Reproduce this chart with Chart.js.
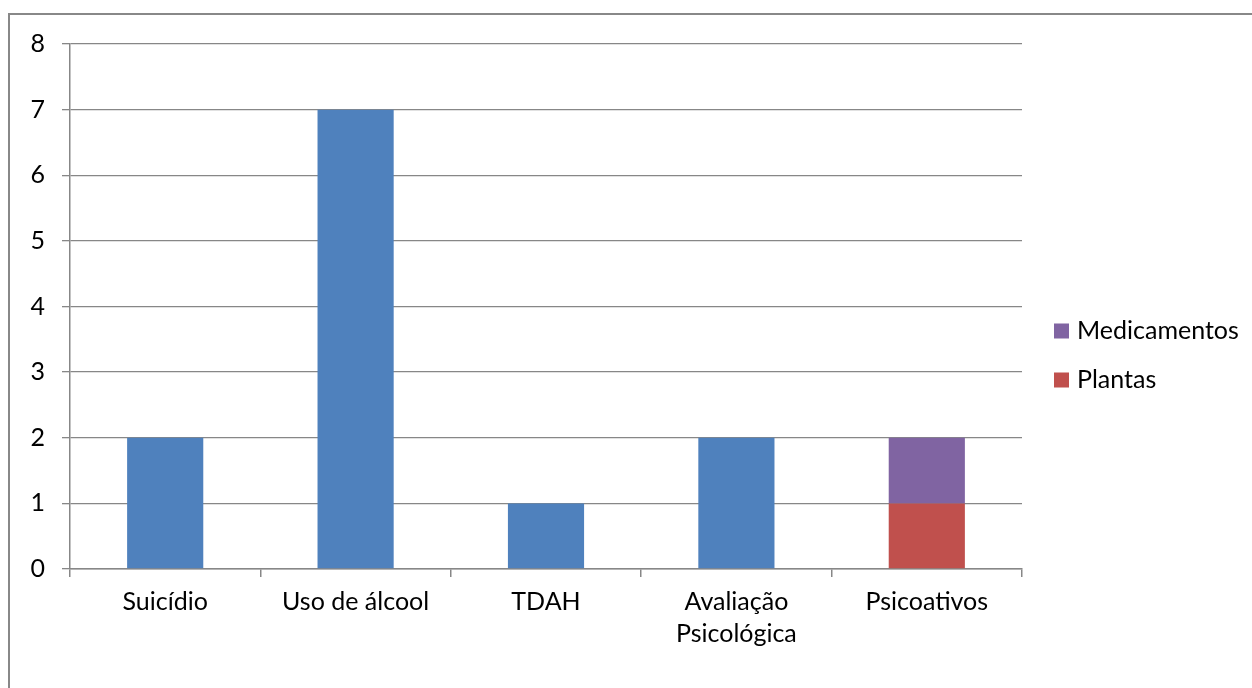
<!DOCTYPE html>
<html>
<head>
<meta charset="utf-8">
<script src="https://cdn.jsdelivr.net/npm/chart.js@4/dist/chart.umd.min.js"></script>
<style>
  html, body { margin: 0; padding: 0; background: #fff; }
  #wrap { position: relative; width: 1252px; height: 688px; }
</style>
</head>
<body>
<div id="wrap"><canvas id="chart" width="1252" height="688"></canvas></div>
<script>
// Categories (multi-line labels as arrays)
const categories = ['Suicídio', 'Uso de álcool', 'TDAH', ['Avaliação', 'Psicológica'], 'Psicoativos'];
// Series values
const estudos = [2, 7, 1, 2, null];
const plantas = [null, null, null, null, 1];
const medicamentos = [null, null, null, null, 1];
// Value axis ticks
const yMin = 0;
const yMax = 8;
const yStep = 1;

const FONT = 'Lato, "Liberation Sans", sans-serif';
const FONT_SIZE = 25;
const GRID = '#878787';

// Frame around the chart and the side legend (only the named series)
const decorations = {
  id: 'decorations',
  beforeDraw(chart) {
    const ctx = chart.ctx;
    ctx.save();
    ctx.fillStyle = '#ffffff';
    ctx.fillRect(0, 0, chart.width, chart.height);
    ctx.strokeStyle = '#888888';
    ctx.lineWidth = 2;
    ctx.beginPath();
    ctx.moveTo(9, chart.height + 10);
    ctx.lineTo(9, 14);
    ctx.lineTo(chart.width + 10, 14);
    ctx.stroke();
    ctx.restore();
  },
  afterDraw(chart) {
    const ctx = chart.ctx;
    const items = chart.data.datasets.filter(d => d.showInLegend).slice().reverse();
    ctx.save();
    ctx.font = FONT_SIZE + 'px ' + FONT;
    ctx.textBaseline = 'middle';
    items.forEach((d, i) => {
      const cy = 331 + i * 49;
      ctx.fillStyle = d.backgroundColor;
      ctx.fillRect(1054, cy - 7.5, 15, 15);
      ctx.fillStyle = '#000000';
      ctx.fillText(d.label, 1077, cy);
    });
    ctx.restore();
  }
};

new Chart(document.getElementById('chart'), {
  type: 'bar',
  data: {
    labels: categories,
    datasets: [
      { label: 'Estudos', data: estudos, backgroundColor: '#4F81BD', showInLegend: false },
      { label: 'Plantas', data: plantas, backgroundColor: '#C0504D', showInLegend: true },
      { label: 'Medicamentos', data: medicamentos, backgroundColor: '#8064A2', showInLegend: true }
    ]
  },
  options: {
    responsive: false,
    animation: false,
    devicePixelRatio: 1,
    layout: { padding: { top: 44, right: 230, bottom: 0, left: 0 } },
    datasets: { bar: { barPercentage: 0.4, categoryPercentage: 1.0, borderWidth: 0 } },
    plugins: {
      legend: { display: false },
      tooltip: { enabled: false }
    },
    scales: {
      x: {
        stacked: true,
        offset: true,
        grid: { offset: true, drawOnChartArea: false, drawTicks: true, tickLength: 8, color: GRID, lineWidth: 1.5 },
        border: { display: true, color: GRID, width: 1.5 },
        ticks: { color: '#000000', font: { family: FONT, size: FONT_SIZE, lineHeight: '32px' }, padding: 9, maxRotation: 0, autoSkip: false },
        afterFit(scale) { scale.height = 119; }
      },
      y: {
        stacked: true,
        min: yMin,
        max: yMax,
        grid: { drawOnChartArea: true, drawTicks: true, tickLength: 8, color: GRID, lineWidth: 1.3 },
        border: { display: true, color: GRID, width: 1.5 },
        ticks: { stepSize: yStep, color: '#000000', font: { family: FONT, size: FONT_SIZE }, padding: 17 },
        afterFit(scale) { scale.width = 70; }
      }
    }
  },
  plugins: [decorations]
});
</script>
</body>
</html>
